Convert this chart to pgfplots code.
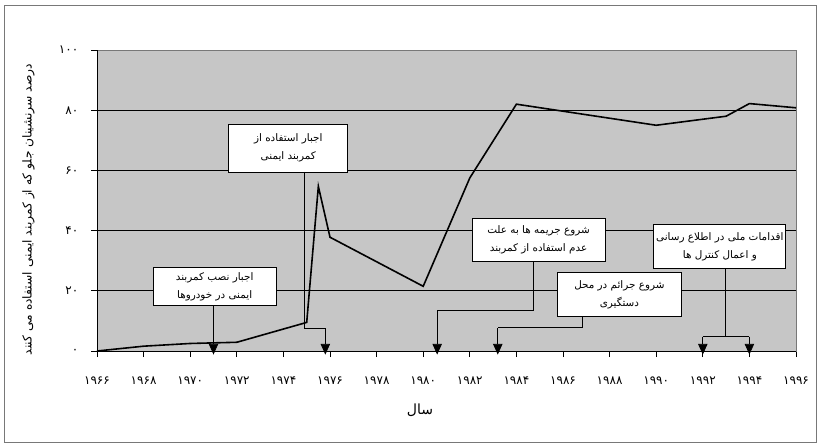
\documentclass[border=0pt]{standalone}
\usepackage{fontspec}
\usepackage{pgfplots}
\pgfplotsset{compat=1.18}
\usetikzlibrary{arrows.meta}
\newfontfamily\fa[Script=Arabic]{DejaVu Sans}
\TeXXeTstate=1
\definecolor{plotbg}{RGB}{198,198,198}
\definecolor{framegray}{RGB}{120,120,120}
\begin{document}
\begin{tikzpicture}
\path[use as bounding box] (0,0) rectangle (615pt,335.25pt);
\draw[framegray, line width=0.7pt] (3pt,3.5pt) rectangle (612pt,331.5pt);
\begin{axis}[
  at={(72.75pt,72pt)}, anchor=south west,
  scale only axis, width=524.25pt, height=225.75pt,
  xmin=1966, xmax=1996, ymin=0, ymax=100,
  clip=false,
  axis background/.style={fill=plotbg},
  axis line style={draw=framegray, line width=0.7pt},
  xtick={1966,1968,...,1996},
  xticklabels={۱۹۶۶,۱۹۶۸,۱۹۷۰,۱۹۷۲,۱۹۷۴,۱۹۷۶,۱۹۷۸,۱۹۸۰,۱۹۸۲,۱۹۸۴,۱۹۸۶,۱۹۸۸,۱۹۹۰,۱۹۹۲,۱۹۹۴,۱۹۹۶},
  ytick={0,20,...,100},
  yticklabels={۰,۲۰,۴۰,۶۰,۸۰,۱۰۰},
  tick align=outside, tick pos=left,
  major tick length=4.5pt,
  tick style={black, line width=0.6pt},
  ymajorgrids, grid style={black, line width=0.6pt},
  xticklabel style={font=\fa\fontsize{9}{10}\selectfont, yshift=-11pt},
  yticklabel style={font=\fa\fontsize{9}{10}\selectfont, xshift=-6pt},
  xlabel={\fa\beginR سال\endR},
  xlabel style={font=\fontsize{10.5}{12}\selectfont, at={(axis description cs:0.462,-0.196)}, anchor=center},
  ylabel={\fa\beginR درصد سرنشینان جلو که از کمربند ایمنی استفاده می کنند\endR},
  ylabel style={font=\fontsize{9.2}{11}\selectfont, at={(axis description cs:-0.098,0.47)}, anchor=center},
]
\addplot[black, line width=1.2pt, mark=none] coordinates {
 (1966,0) (1968,1.6) (1970,2.5) (1972,2.9) (1975,9.5) (1975.5,54.7) (1976,37.8)
 (1980,21.5) (1982,57.5) (1984,82) (1990,75) (1993,78) (1994,82.2) (1996,80.8)
};
\draw[black, line width=0.6pt] (axis cs:1966,0) -- (axis cs:1996,0);
\draw[black, line width=0.6pt] (axis cs:1966,0) -- (axis cs:1966,100);
% callouts
\tikzset{box/.style={draw=black, fill=white, line width=0.6pt},
         conn/.style={black, line width=0.6pt},
         arr/.style={black, line width=0.6pt, -{Triangle[width=7pt,length=8pt]}},
         btxt/.style={font=\fa\fontsize{7.8}{13.5}\selectfont, align=center}}
% box 1
\draw[box] (axis cs:1968.4,27.9) rectangle (axis cs:1973.7,15.0);
\node[btxt] at (axis cs:1971.05,21.45) {\beginR اجبار نصب کمربند\endR\\\beginR ایمنی در خودروها\endR};
\draw[arr] (axis cs:1971,15) -- (axis cs:1971,-1.2);
% box 2
\draw[box] (axis cs:1971.66,75.4) rectangle (axis cs:1976.76,59.5);
\node[btxt] at (axis cs:1974.21,67.45) {\beginR اجبار استفاده از\endR\\\beginR کمربند ایمنی\endR};
\draw[conn] (axis cs:1974.9,59.5) -- (axis cs:1974.9,7.5) -- (axis cs:1975.8,7.5);
\draw[arr] (axis cs:1975.8,7.5) -- (axis cs:1975.8,-1.2);
% box 3
\draw[box] (axis cs:1982.1,44.1) rectangle (axis cs:1987.8,29.9);
\node[btxt] at (axis cs:1984.95,37) {\beginR شروع جریمه ها به علت\endR\\\beginR عدم استفاده از کمربند\endR};
\draw[conn] (axis cs:1984.74,29.9) -- (axis cs:1984.74,13.6) -- (axis cs:1980.6,13.6);
\draw[arr] (axis cs:1980.6,13.6) -- (axis cs:1980.6,-1.2);
% box 4
\draw[box] (axis cs:1985.75,26.0) rectangle (axis cs:1991.1,11.6);
\node[btxt] at (axis cs:1988.42,18.8) {\beginR شروع جرائم در محل\endR\\\beginR دستگیری\endR};
\draw[conn] (axis cs:1986.84,11.6) -- (axis cs:1986.84,7.7) -- (axis cs:1983.2,7.7);
\draw[arr] (axis cs:1983.2,7.7) -- (axis cs:1983.2,-1.2);
% box 5
\draw[box] (axis cs:1989.9,41.9) rectangle (axis cs:1995.56,27.5);
\node[btxt] at (axis cs:1992.73,34.7) {\beginR اقدامات ملی در اطلاع رسانی\endR\\\beginR و اعمال کنترل ها\endR};
\draw[conn] (axis cs:1992.99,27.5) -- (axis cs:1992.99,4.75);
\draw[conn] (axis cs:1992,4.75) -- (axis cs:1994,4.75);
\draw[arr] (axis cs:1992,4.75) -- (axis cs:1992,-1.2);
\draw[arr] (axis cs:1994,4.75) -- (axis cs:1994,-1.2);
\end{axis}
\end{tikzpicture}
\end{document}
